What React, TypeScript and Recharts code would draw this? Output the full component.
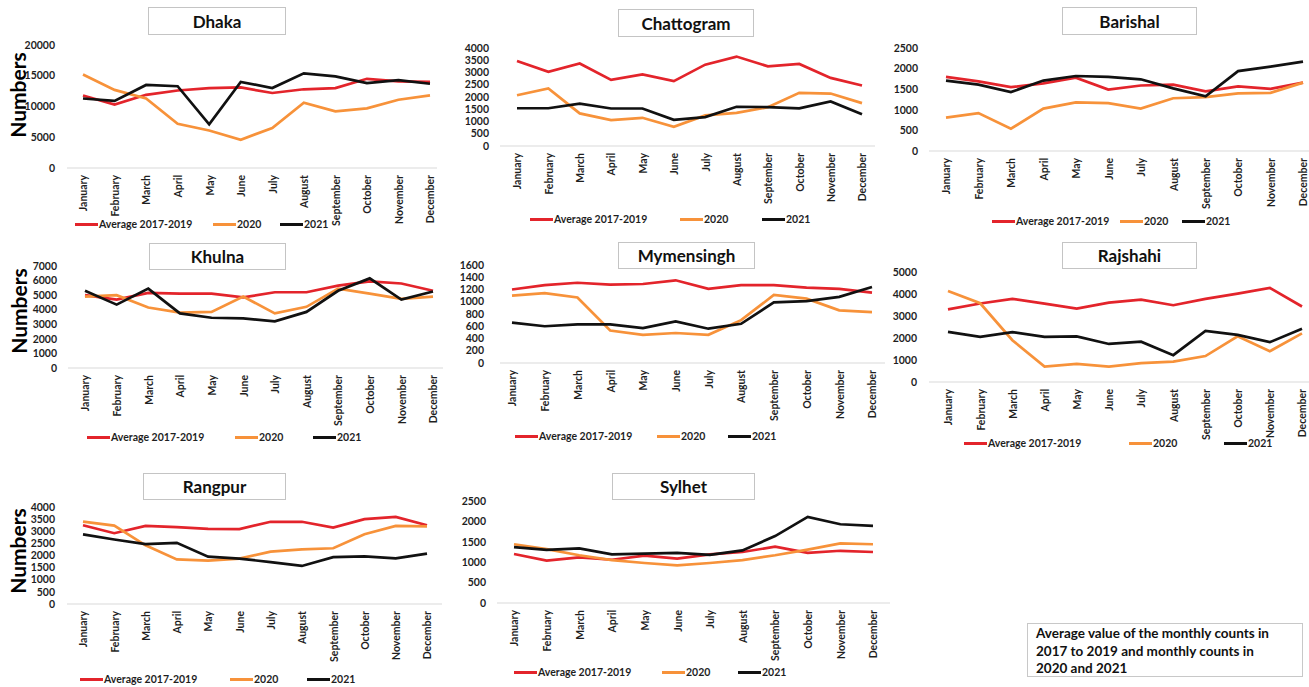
import React from 'react';
import { LineChart, Line, XAxis, YAxis, Legend } from 'recharts';

const months = ['January', 'February', 'March', 'April', 'May', 'June', 'July', 'August', 'September', 'October', 'November', 'December'];
const seriesNames = ['Average 2017-2019', '2020', '2021'];

const dhakaAvg = [11800, 10300, 11900, 12600, 13000, 13100, 12200, 12800, 13000, 14500, 14100, 14000];
const dhaka2020 = [15200, 12700, 11300, 7200, 6100, 4600, 6500, 10600, 9200, 9700, 11100, 11800];
const dhaka2021 = [11300, 10900, 13500, 13300, 7100, 14000, 13000, 15400, 14900, 13800, 14300, 13700];
const dhakaTicks = [0, 5000, 10000, 15000, 20000];

const chattogramAvg = [3470, 3030, 3370, 2700, 2920, 2650, 3320, 3650, 3250, 3350, 2780, 2470];
const chattogram2020 = [2070, 2350, 1330, 1060, 1150, 780, 1250, 1350, 1580, 2170, 2140, 1750];
const chattogram2021 = [1540, 1540, 1730, 1530, 1530, 1070, 1180, 1600, 1590, 1540, 1820, 1300];
const chattogramTicks = [0, 500, 1000, 1500, 2000, 2500, 3000, 3500, 4000];

const barishalAvg = [1800, 1690, 1550, 1640, 1780, 1490, 1590, 1610, 1450, 1570, 1510, 1660];
const barishal2020 = [810, 920, 540, 1030, 1180, 1160, 1030, 1280, 1310, 1400, 1410, 1660];
const barishal2021 = [1710, 1610, 1430, 1710, 1820, 1800, 1740, 1520, 1330, 1940, 2050, 2170];
const barishalTicks = [0, 500, 1000, 1500, 2000, 2500];

const khulnaAvg = [5000, 4700, 5150, 5100, 5100, 4850, 5200, 5200, 5650, 5950, 5800, 5300];
const khulna2020 = [4900, 5000, 4150, 3800, 3850, 4900, 3750, 4200, 5450, 5100, 4750, 4900];
const khulna2021 = [5300, 4350, 5450, 3750, 3450, 3400, 3200, 3850, 5300, 6150, 4700, 5250];
const khulnaTicks = [0, 1000, 2000, 3000, 4000, 5000, 6000, 7000];

const mymensinghAvg = [1200, 1270, 1310, 1280, 1290, 1350, 1210, 1270, 1270, 1230, 1210, 1150];
const mymensingh2020 = [1100, 1140, 1070, 530, 460, 490, 460, 700, 1110, 1050, 860, 830];
const mymensingh2021 = [660, 600, 630, 630, 570, 680, 560, 640, 990, 1010, 1080, 1240];
const mymensinghTicks = [0, 200, 400, 600, 800, 1000, 1200, 1400, 1600];

const rajshahiAvg = [3300, 3570, 3780, 3560, 3340, 3610, 3740, 3490, 3780, 4020, 4280, 3430];
const rajshahi2020 = [4140, 3580, 1900, 700, 820, 700, 860, 930, 1180, 2080, 1400, 2210];
const rajshahi2021 = [2280, 2050, 2270, 2050, 2070, 1730, 1830, 1220, 2320, 2140, 1810, 2420];
const rajshahiTicks = [0, 1000, 2000, 3000, 4000, 5000];

const rangpurAvg = [3250, 2920, 3220, 3170, 3100, 3090, 3390, 3390, 3150, 3500, 3590, 3250];
const rangpur2020 = [3400, 3230, 2420, 1840, 1790, 1870, 2160, 2250, 2300, 2880, 3220, 3200];
const rangpur2021 = [2870, 2660, 2470, 2520, 1950, 1870, 1730, 1570, 1930, 1960, 1880, 2080];
const rangpurTicks = [0, 500, 1000, 1500, 2000, 2500, 3000, 3500, 4000];

const sylhetAvg = [1200, 1040, 1120, 1060, 1160, 1090, 1190, 1250, 1380, 1230, 1280, 1250];
const sylhet2020 = [1440, 1320, 1170, 1050, 980, 920, 980, 1050, 1170, 1310, 1460, 1440];
const sylhet2021 = [1370, 1300, 1340, 1190, 1210, 1230, 1180, 1290, 1640, 2110, 1930, 1890];
const sylhetTicks = [0, 500, 1000, 1500, 2000, 2500];

const noteLines = ['Average value of the monthly counts in', '2017 to 2019 and monthly counts in', '2020 and 2021'];

const COLORS = ['#E3242B', '#F7923A', '#111111'];
const FONT = 'Lato, "Open Sans", sans-serif';
const TEXT = '#1f1f1f';

const buildRows = (avg: number[], y2020: number[], y2021: number[]) =>
  months.map((m, i) => ({ month: m, avg: avg[i], y2020: y2020[i], y2021: y2021[i] }));

type Layout = {
  title: string;
  avg: number[];
  y2020: number[];
  y2021: number[];
  ticks: number[];
  axisStart: number;
  axisEnd: number;
  jan: number;
  dec: number;
  plotTop: number;
  plotBottom: number;
  tickGap: number;
  titleBox: [number, number, number, number];
  legendY: number;
  legendX: [number, number, number];
};

const panels: Layout[] = [
  { title: 'Dhaka', avg: dhakaAvg, y2020: dhaka2020, y2021: dhaka2021, ticks: dhakaTicks,
    axisStart: 67, axisEnd: 437, jan: 83, dec: 430, plotTop: 45, plotBottom: 168, tickGap: 12,
    titleBox: [148, 7, 138, 28], legendY: 224, legendX: [75, 213, 280] },
  { title: 'Chattogram', avg: chattogramAvg, y2020: chattogram2020, y2021: chattogram2021, ticks: chattogramTicks,
    axisStart: 500, axisEnd: 875, jan: 517, dec: 862, plotTop: 48, plotBottom: 146, tickGap: 11,
    titleBox: [618, 9, 136, 28], legendY: 219, legendX: [530, 680, 762] },
  { title: 'Barishal', avg: barishalAvg, y2020: barishal2020, y2021: barishal2021, ticks: barishalTicks,
    axisStart: 929, axisEnd: 1320, jan: 946, dec: 1303, plotTop: 48, plotBottom: 151, tickGap: 11,
    titleBox: [1062, 7, 135, 28], legendY: 221, legendX: [992, 1120, 1182] },
  { title: 'Khulna', avg: khulnaAvg, y2020: khulna2020, y2021: khulna2021, ticks: khulnaTicks,
    axisStart: 68, axisEnd: 443, jan: 85, dec: 433, plotTop: 266, plotBottom: 368, tickGap: 11,
    titleBox: [149, 243, 137, 27], legendY: 437, legendX: [87, 235, 313] },
  { title: 'Mymensingh', avg: mymensinghAvg, y2020: mymensingh2020, y2021: mymensingh2021, ticks: mymensinghTicks,
    axisStart: 500, axisEnd: 885, jan: 512, dec: 872, plotTop: 265, plotBottom: 363, tickGap: 16,
    titleBox: [618, 242, 137, 27], legendY: 436, legendX: [515, 657, 728] },
  { title: 'Rajshahi', avg: rajshahiAvg, y2020: rajshahi2020, y2021: rajshahi2021, ticks: rajshahiTicks,
    axisStart: 929, axisEnd: 1320, jan: 948, dec: 1302, plotTop: 272, plotBottom: 382, tickGap: 12,
    titleBox: [1062, 242, 135, 27], legendY: 443, legendX: [964, 1129, 1224] },
  { title: 'Rangpur', avg: rangpurAvg, y2020: rangpur2020, y2021: rangpur2021, ticks: rangpurTicks,
    axisStart: 67, axisEnd: 442, jan: 83, dec: 427, plotTop: 507, plotBottom: 604, tickGap: 12,
    titleBox: [143, 473, 143, 27], legendY: 679, legendX: [80, 230, 307] },
  { title: 'Sylhet', avg: sylhetAvg, y2020: sylhet2020, y2021: sylhet2021, ticks: sylhetTicks,
    axisStart: 497, axisEnd: 890, jan: 514, dec: 873, plotTop: 501, plotBottom: 603, tickGap: 11,
    titleBox: [612, 473, 143, 27], legendY: 672, legendX: [514, 662, 738] },
];

const numbersLabels: [number, number][] = [[17, 95], [18, 311], [17, 551]];

const MonthTick = (props: any) => {
  const { x, y, payload } = props;
  return (
    <text
      transform={`translate(${x},${y}) rotate(-90) scale(1,1.15)`}
      textAnchor="end"
      dy="0.36em"
      fontSize={10.5}
      fontWeight={700}
      fontFamily={FONT}
      fill={TEXT}
    >
      {payload.value}
    </text>
  );
};

const RegionChart = ({ cfg }: { cfg: Layout }) => {
  const left = cfg.axisStart - 60;
  const top = cfg.plotTop - 5;
  const width = cfg.axisEnd - left + 5;
  const plotH = cfg.plotBottom - cfg.plotTop;
  const xAxisH = 60;
  const bottomMargin = 50;
  const height = 5 + plotH + xAxisH + bottomMargin;
  const rows = buildRows(cfg.avg, cfg.y2020, cfg.y2021);
  const max = cfg.ticks[cfg.ticks.length - 1];

  const renderLegend = (props: any) => {
    const payload: any[] = props.payload || [];
    return (
      <div style={{ position: 'relative', width: '100%', height: 16 }}>
        {seriesNames.map((name, i) => {
          const entry = payload.find((p) => p.value === name);
          const color = entry ? entry.color : COLORS[i];
          return (
            <div
              key={name}
              style={{
                position: 'absolute',
                left: cfg.legendX[i] - left,
                top: 0,
                height: 16,
                display: 'flex',
                alignItems: 'center',
                whiteSpace: 'nowrap',
              }}
            >
              <span style={{ display: 'inline-block', width: 23, height: 3, background: color }} />
              <span
                style={{
                  marginLeft: 1,
                  fontFamily: FONT,
                  fontWeight: 700,
                  fontSize: 10.5,
                  color: TEXT,
                  lineHeight: '16px',
                }}
              >
                {name}
              </span>
            </div>
          );
        })}
      </div>
    );
  };

  return (
    <div style={{ position: 'absolute', left, top }}>
      <LineChart
        width={width}
        height={height}
        data={rows}
        margin={{ top: 5, right: 5, left: 0, bottom: bottomMargin }}
      >
        <XAxis
          dataKey="month"
          scale="point"
          padding={{ left: cfg.jan - cfg.axisStart, right: cfg.axisEnd - cfg.dec }}
          height={xAxisH}
          interval={0}
          tickLine={false}
          tickSize={6}
          tickMargin={1}
          axisLine={{ stroke: '#D9D9D9', strokeWidth: 1 }}
          tick={<MonthTick />}
        />
        <YAxis
          width={60}
          domain={[0, max]}
          ticks={cfg.ticks}
          interval={0}
          axisLine={false}
          tickLine={false}
          tickSize={0}
          tickMargin={cfg.tickGap}
          tick={{ fontSize: 10.5, fontWeight: 700, fontFamily: FONT, fill: TEXT }}
        />
        <Line dataKey="avg" name={seriesNames[0]} stroke={COLORS[0]} strokeWidth={2.7} dot={false} activeDot={false} isAnimationActive={false} />
        <Line dataKey="y2020" name={seriesNames[1]} stroke={COLORS[1]} strokeWidth={2.7} dot={false} activeDot={false} isAnimationActive={false} />
        <Line dataKey="y2021" name={seriesNames[2]} stroke={COLORS[2]} strokeWidth={2.7} dot={false} activeDot={false} isAnimationActive={false} />
        <Legend
          layout="horizontal"
          verticalAlign="middle"
          align="center"
          wrapperStyle={{ left: 0, top: cfg.legendY - top - 8, width, height: 16 }}
          content={renderLegend}
        />
      </LineChart>
    </div>
  );
};

export default function App() {
  return (
    <div
      style={{
        position: 'absolute',
        left: 0,
        top: 0,
        width: 1309,
        height: 687,
        overflow: 'hidden',
        background: '#ffffff',
        fontFamily: FONT,
      }}
    >
      {panels.map((p) => (
        <RegionChart key={p.title} cfg={p} />
      ))}
      {panels.map((p) => (
        <div
          key={p.title + '-title'}
          style={{
            position: 'absolute',
            left: p.titleBox[0],
            top: p.titleBox[1],
            width: p.titleBox[2],
            height: p.titleBox[3],
            boxSizing: 'border-box',
            border: '1.5px solid #C4C4C4',
            background: '#fff',
            display: 'flex',
            alignItems: 'center',
            justifyContent: 'center',
            fontWeight: 700,
            fontSize: 17,
            color: '#111',
          }}
        >
          {p.title}
        </div>
      ))}
      {numbersLabels.map(([cx, cy], i) => (
        <div
          key={'num' + i}
          style={{
            position: 'absolute',
            left: cx,
            top: cy,
            transform: 'translate(-50%, -50%) rotate(-90deg)',
            fontWeight: 700,
            fontSize: 21,
            lineHeight: 1,
            color: '#000',
            whiteSpace: 'nowrap',
          }}
        >
          Numbers
        </div>
      ))}
      <div
        style={{
          position: 'absolute',
          left: 1027,
          top: 623,
          width: 276,
          height: 54,
          boxSizing: 'border-box',
          border: '1.5px solid #C8C8C8',
          padding: '1px 0 0 8px',
          fontWeight: 700,
          fontSize: 13.5,
          lineHeight: '17.5px',
          color: '#111',
          whiteSpace: 'nowrap',
        }}
      >
        {noteLines.map((l) => (
          <div key={l}>{l}</div>
        ))}
      </div>
    </div>
  );
}
